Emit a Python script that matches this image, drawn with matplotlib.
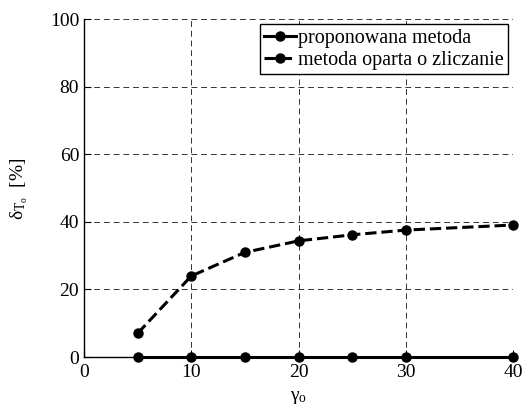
import matplotlib.pyplot as plt
import numpy as np

plt.rcParams['font.family'] = 'Liberation Serif'
plt.rcParams['mathtext.fontset'] = 'custom'
plt.rcParams['mathtext.rm'] = 'Liberation Serif'
plt.rcParams['mathtext.it'] = 'Liberation Serif'

# values
gamma = np.array([5, 10, 15, 20, 25, 30, 40])
proposed = np.array([0, 0, 0, 0, 0, 0, 0])
counting = np.array([7.0, 24.0, 31.0, 34.4, 36.2, 37.6, 39.1])

fig = plt.figure(figsize=(5.23, 4.05), dpi=100)
ax = fig.add_axes([0.1606, 0.1185, 0.8204, 0.8335])

ax.plot(gamma, proposed, '-o', color='black', linewidth=2.2, markersize=6.5,
        label='proponowana metoda', clip_on=False, zorder=5)
ax.plot(gamma, counting, '--o', color='black', linewidth=2.2, markersize=6.5,
        label='metoda oparta o zliczanie', clip_on=False, zorder=5)

ax.set_xlim(0, 40)
ax.set_ylim(0, 100)
ax.set_xticks([0, 10, 20, 30, 40])
ax.set_yticks([0, 20, 40, 60, 80, 100])
ax.tick_params(direction='in', labelsize=14, length=5, width=0.8)
ax.tick_params(axis='x', pad=5)

ax.grid(True, linestyle=(0, (6, 4)), color='black', linewidth=0.7, alpha=0.8)
ax.spines['top'].set_visible(False)
ax.spines['right'].set_visible(False)
ax.spines['left'].set_linewidth(1.0)
ax.spines['bottom'].set_linewidth(1.0)

ax.set_xlabel(r'$\gamma_{\mathrm{o}}$', fontsize=14, labelpad=6)
ax.set_ylabel(r'$\delta_{T_{\mathrm{o}}}$  [%]', fontsize=14, labelpad=14)

leg = ax.legend(loc='upper right', fontsize=14.5, handlelength=1.6,
                handletextpad=0.1, borderpad=0.2, labelspacing=0.15,
                borderaxespad=0.25, fancybox=False, framealpha=1)
leg.get_frame().set_edgecolor('black')
leg.get_frame().set_linewidth(1.0)

plt.savefig('out.png', dpi=100)
